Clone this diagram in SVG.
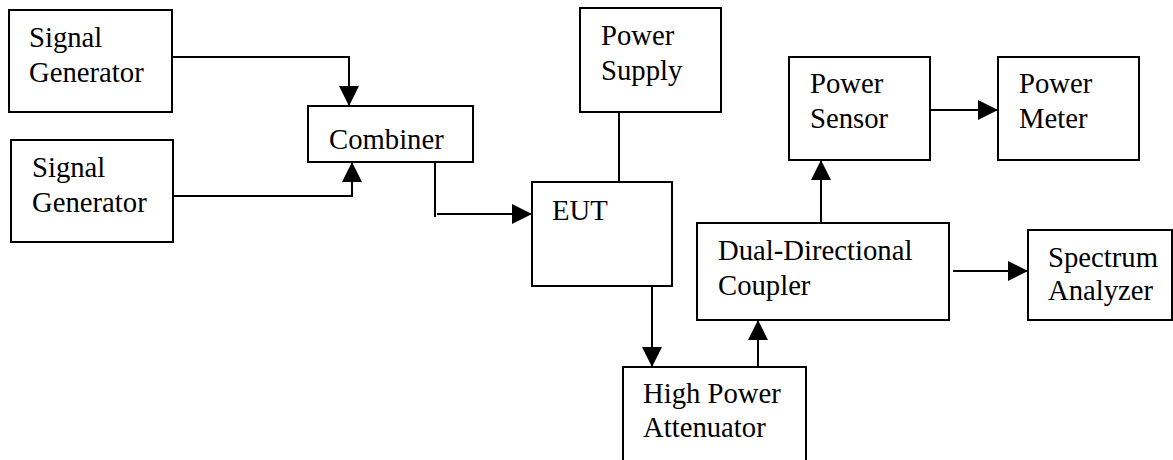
<svg xmlns="http://www.w3.org/2000/svg" width="1173" height="460" viewBox="0 0 1173 460">
<style>
.box{fill:#fff;stroke:#000;stroke-width:2}
.t{font-family:"Liberation Serif","Times New Roman",serif;font-size:28.7px;fill:#000}
.c{fill:none;stroke:#000;stroke-width:2}
</style>
<defs>
<marker id="ah" markerUnits="userSpaceOnUse" markerWidth="20" markerHeight="20" refX="20" refY="10" orient="auto" viewBox="0 0 20 20">
<path d="M0,0 L20,10 L0,20 Z" fill="#000"/>
</marker>
</defs>
<rect width="1173" height="460" fill="#fff"/>
<g id="sg1"><rect class="box" x="9" y="10" width="163" height="102"/><text class="t" x="29" y="47">Signal</text><text class="t" x="29" y="82">Generator</text></g>
<g id="sg2"><rect class="box" x="11" y="140" width="162" height="102"/><text class="t" x="32" y="177">Signal</text><text class="t" x="32" y="212">Generator</text></g>
<g id="combiner"><rect class="box" x="308" y="106" width="165" height="56"/><text class="t" x="329" y="149">Combiner</text></g>
<g id="psupply"><rect class="box" x="580" y="8" width="141" height="104"/><text class="t" x="601" y="45">Power</text><text class="t" x="601" y="80">Supply</text></g>
<g id="eut"><rect class="box" x="532" y="182" width="140" height="104"/><text class="t" x="552" y="220">EUT</text></g>
<g id="atten"><rect class="box" x="623" y="367" width="183" height="100"/><text class="t" x="643" y="403">High Power</text><text class="t" x="643" y="437">Attenuator</text></g>
<g id="coupler"><rect class="box" x="697" y="223" width="252" height="97"/><text class="t" x="718" y="260">Dual-Directional</text><text class="t" x="718" y="295">Coupler</text></g>
<g id="psensor"><rect class="box" x="789" y="57" width="141" height="103"/><text class="t" x="810" y="93">Power</text><text class="t" x="810" y="128">Sensor</text></g>
<g id="pmeter"><rect class="box" x="998" y="57" width="141" height="103"/><text class="t" x="1019" y="93">Power</text><text class="t" x="1019" y="128">Meter</text></g>
<g id="spectrum"><rect class="box" x="1028" y="230" width="144" height="90"/><text class="t" x="1048" y="267">Spectrum</text><text class="t" x="1048" y="300">Analyzer</text></g>
<g id="connectors">
<path class="c" d="M172,57 H349 V106" marker-end="url(#ah)"/>
<path class="c" d="M173,196 H352 V162" marker-end="url(#ah)"/>
<path class="c" d="M435,162 V217"/>
<path class="c" d="M437,214 H532" marker-end="url(#ah)"/>
<path class="c" d="M619,112 V182"/>
<path class="c" d="M652,285 V367" marker-end="url(#ah)"/>
<path class="c" d="M758,367 V320" marker-end="url(#ah)"/>
<path class="c" d="M821,222 V160" marker-end="url(#ah)"/>
<path class="c" d="M930,110 H998" marker-end="url(#ah)"/>
<path class="c" d="M953,271 H1028" marker-end="url(#ah)"/>
</g>
</svg>
